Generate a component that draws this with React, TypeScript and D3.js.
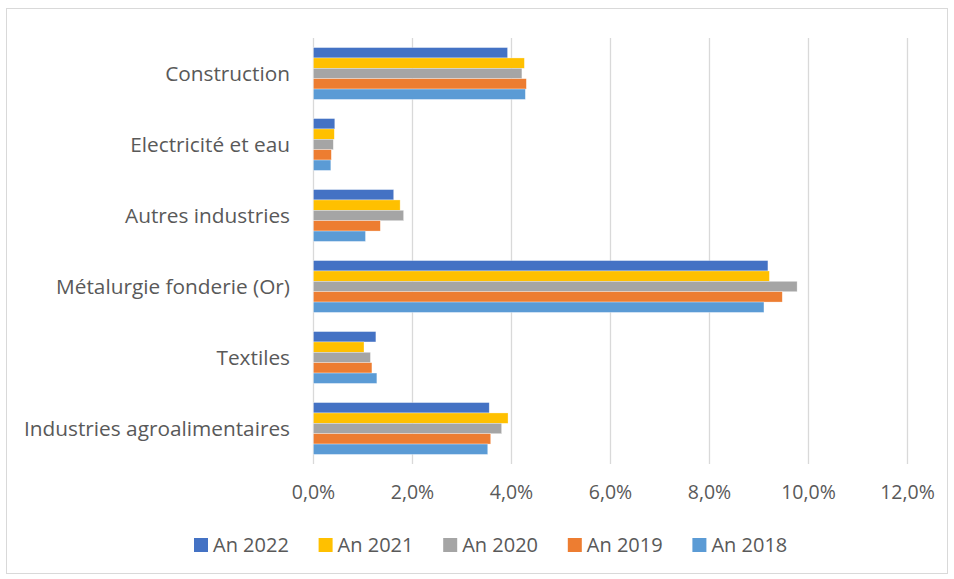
import React, { useEffect, useRef } from "react";
import * as d3 from "d3";

const categories = [
  "Construction",
  "Electricité et eau",
  "Autres industries",
  "Métalurgie fonderie (Or)",
  "Textiles",
  "Industries agroalimentaires",
];

const seriesNames = ["An 2022", "An 2021", "An 2020", "An 2019", "An 2018"];
const seriesColors = ["#4472C4", "#FFC000", "#A5A5A5", "#ED7D31", "#5B9BD5"];

// values in %, one array per year, same order as categories
const an2022 = [3.92, 0.43, 1.62, 9.18, 1.26, 3.55];
const an2021 = [4.26, 0.42, 1.75, 9.21, 1.02, 3.93];
const an2020 = [4.21, 0.4, 1.82, 9.77, 1.15, 3.8];
const an2019 = [4.3, 0.36, 1.35, 9.47, 1.18, 3.58];
const an2018 = [4.28, 0.35, 1.05, 9.1, 1.28, 3.52];

const xTicks = [0, 2, 4, 6, 8, 10, 12];

const W = 954;
const H = 579;
const FONT = "'Open Sans', sans-serif";
const TEXT = "#595959";

export default function App() {
  const ref = useRef<SVGSVGElement>(null);

  useEffect(() => {
    const svg = d3.select(ref.current);
    svg.selectAll("*").remove();

    const values = [an2022, an2021, an2020, an2019, an2018];
    const left = 313.5;
    const right = 907.5;
    const top = 38;
    const bottom = 464;

    const x = d3.scaleLinear().domain([0, 12]).range([left, right]);
    const y = d3
      .scaleBand()
      .domain(categories)
      .range([top, bottom])
      .paddingInner(0.27)
      .paddingOuter(0.135);
    const ySub = d3.scaleBand().domain(seriesNames).range([0, y.bandwidth()]);

    // chart frame
    svg
      .append("rect")
      .attr("x", 6.5)
      .attr("y", 8.5)
      .attr("width", 941)
      .attr("height", 565)
      .attr("fill", "#fff")
      .attr("stroke", "#d9d9d9");

    // gridlines
    svg
      .append("g")
      .selectAll("line")
      .data(xTicks)
      .join("line")
      .attr("x1", (d) => x(d))
      .attr("x2", (d) => x(d))
      .attr("y1", top)
      .attr("y2", bottom)
      .attr("stroke", "#d9d9d9")
      .attr("stroke-width", 1.3);

    // bars
    const groups = svg
      .append("g")
      .selectAll("g")
      .data(categories)
      .join("g")
      .attr("transform", (d) => `translate(0,${y(d)})`);

    groups
      .selectAll("rect")
      .data((_, i) => seriesNames.map((s, j) => ({ s, j, v: values[j][i] })))
      .join("rect")
      .attr("x", x(0))
      .attr("y", (d) => ySub(d.s)!)
      .attr("width", (d) => x(d.v) - x(0))
      .attr("height", ySub.bandwidth())
      .attr("fill", (d) => seriesColors[d.j])
      .attr("stroke", "#fff")
      .attr("stroke-opacity", 0.5)
      .attr("stroke-width", 0.6);

    // category labels
    svg
      .append("g")
      .selectAll("text")
      .data(categories)
      .join("text")
      .attr("x", 290)
      .attr("y", (d) => y(d)! + y.bandwidth() / 2)
      .attr("dy", "0.35em")
      .attr("text-anchor", "end")
      .attr("font-family", FONT)
      .attr("font-size", 20.8)
      .attr("fill", TEXT)
      .text((d) => d);

    // x tick labels
    const fmt = (d: number) => d.toFixed(1).replace(".", ",") + "%";
    svg
      .append("g")
      .selectAll("text")
      .data(xTicks)
      .join("text")
      .attr("x", (d) => x(d))
      .attr("y", 492.5)
      .attr("dy", "0.35em")
      .attr("text-anchor", "middle")
      .attr("font-family", FONT)
      .attr("font-size", 19.5)
      .attr("fill", TEXT)
      .text(fmt);

    // legend
    const legend = svg
      .append("g")
      .selectAll("g")
      .data(seriesNames)
      .join("g")
      .attr("transform", (_, i) => `translate(${194 + i * 124.6},545)`);
    legend
      .append("rect")
      .attr("x", 0)
      .attr("y", -7)
      .attr("width", 14)
      .attr("height", 14)
      .attr("fill", (_, i) => seriesColors[i]);
    legend
      .append("text")
      .attr("x", 19)
      .attr("y", 0)
      .attr("dy", "0.35em")
      .attr("font-family", FONT)
      .attr("font-size", 20)
      .attr("fill", TEXT)
      .text((d) => d);
  }, []);

  return (
    <svg
      ref={ref}
      width={W}
      height={H}
      style={{ position: "absolute", left: 0, top: 0, background: "#fff" }}
    />
  );
}
